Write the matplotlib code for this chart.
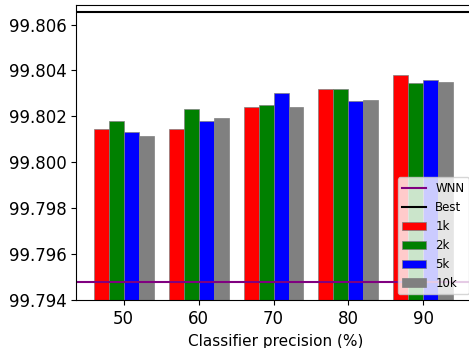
import numpy as np
import matplotlib.pyplot as plt

precision = [50, 60, 70, 80, 90]
acc_1k = [99.80144, 99.80144, 99.80242, 99.80320, 99.80379]
acc_2k = [99.80182, 99.80231, 99.80252, 99.80320, 99.80347]
acc_5k = [99.80133, 99.80180, 99.80300, 99.80268, 99.80358]
acc_10k = [99.80114, 99.80194, 99.80242, 99.80272, 99.80350]
wnn = 99.79480
best = 99.80655

fig = plt.figure(figsize=(4.69, 3.48), dpi=100)
ax = fig.add_axes([0.163, 0.137, 0.85, 0.85])

x = np.array(precision)
w = 2
series = [(acc_1k, "red", "1k"), (acc_2k, "green", "2k"),
          (acc_5k, "blue", "5k"), (acc_10k, "grey", "10k")]
ax.axhline(wnn, color="purple", lw=1.5, label="WNN")
ax.axhline(best, color="black", lw=1.5, label="Best")
for i, (vals, c, lab) in enumerate(series):
    ax.bar(x + (i - 1.5) * w, vals, width=w, color=c, edgecolor="grey",
           linewidth=0.5, label=lab)

ax.set_ylim(99.794, 99.80687)
ax.set_xlim(43.7, 96.9)
ax.set_xticks(precision)
ax.set_yticks(np.arange(99.794, 99.8065, 0.002))
ax.yaxis.set_major_formatter(plt.FormatStrFormatter("%.3f"))
ax.tick_params(labelsize=12)
ax.set_xlabel("Classifier precision (%)", fontsize=11)
ax.legend(loc="lower right", fontsize=8.5)

fig.savefig("out.png")
